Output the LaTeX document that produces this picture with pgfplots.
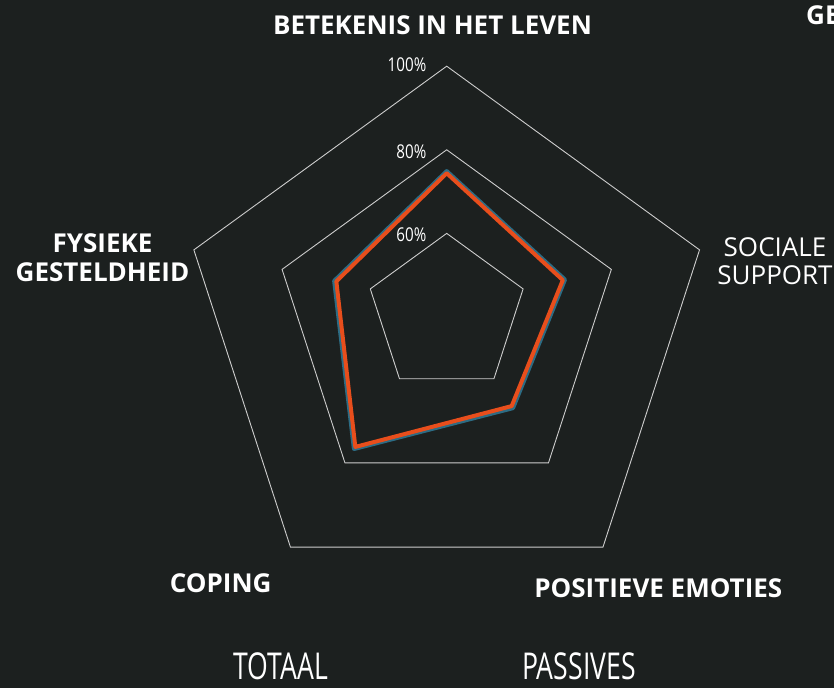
\documentclass[border=0pt]{standalone}
\usepackage{fontspec}
\setmainfont{Open Sans}
\newfontfamily\tickfont[FakeStretch=0.8]{Open Sans}
\newfontfamily\condfont[FakeStretch=0.72]{Open Sans}
\usepackage{pgfplots}
\usepackage{pgfplotstable}
\pgfplotsset{compat=1.18}
\definecolor{bg}{RGB}{28,32,31}
\definecolor{gridc}{RGB}{205,205,205}
\definecolor{orangec}{RGB}{232,78,28}
\definecolor{tealc}{RGB}{44,108,132}

% axis angles (clockwise from top)
\pgfplotstableread{
angle level
0 1
72 1
144 1
216 1
288 1
}\angles

% values in percent
\pgfplotstableread{
dim angle totaal passives
Betekenis 0 74.85 74.4
Sociale 72 69.45 69.0
Positieve 144 66.95 66.5
Coping 216 76.65 76.2
Fysieke 288 68.15 67.7
}\radar

\begin{document}
\begin{tikzpicture}
\begin{axis}[
  width=834bp, height=688bp, scale only axis,
  xmin=0, xmax=834, ymin=-688, ymax=0,
  axis lines=none, ticks=none, clip=false,
  axis background/.style={fill=bg},
]
% grid pentagons at 60, 80, 100 %
\pgfplotsinvokeforeach{60,80,100}{
  \addplot[gridc, line width=0.9bp, line join=miter, mark=none] table[
    x expr={446.7+4.6375*(#1-42.675)*sin(\thisrow{angle})},
    y expr={4.6375*(#1-42.675)*(cos(\thisrow{angle})-0.0987)-305.8}
  ]{\angles} -- cycle;
}
% series
\addplot[tealc, line width=4.4bp, line join=round, mark=none] table[
    x expr={446.7+4.6375*(\thisrow{totaal}-42.675)*sin(\thisrow{angle})},
    y expr={4.6375*(\thisrow{totaal}-42.675)*(cos(\thisrow{angle})-0.0987)-305.8}
  ]{\radar} -- cycle;
\addplot[orangec, line width=4bp, line join=round, mark=none] table[
    x expr={446.7+4.6375*(\thisrow{passives}-42.675)*sin(\thisrow{angle})},
    y expr={4.6375*(\thisrow{passives}-42.675)*(cos(\thisrow{angle})-0.0987)-305.8}
  ]{\radar} -- cycle;

% radial tick labels
\tikzset{tl/.style={anchor=base east, text=white, inner sep=0pt, font=\tickfont\fontsize{19bp}{21bp}\selectfont}}
\node[tl] at (axis cs:426.5,-71.7) {100\%};
\node[tl] at (axis cs:426.5,-158.3) {80\%};
\node[tl] at (axis cs:426.5,-241.7) {60\%};

% category labels
\tikzset{lab/.style={text=white, inner sep=0pt, font=\bfseries\fontsize{26bp}{29bp}\selectfont}}
\tikzset{labr/.style={text=white, inner sep=0pt, font=\fontsize{26bp}{29bp}\selectfont}}
\node[lab, anchor=base] at (axis cs:432.5,-34.3) {BETEKENIS IN HET LEVEN};
\node[lab, anchor=base] at (axis cs:102.5,-252.3) {FYSIEKE};
\node[lab, anchor=base] at (axis cs:102.5,-281.7) {GESTELDHEID};
\node[labr, anchor=base] at (axis cs:775,-256.7) {SOCIALE};
\node[labr, anchor=base] at (axis cs:775,-285) {SUPPORT};
\node[lab, anchor=base] at (axis cs:220.7,-592.3) {COPING};
\node[lab, anchor=base] at (axis cs:658.3,-597.3) {POSITIEVE EMOTIES};
\node[lab, anchor=base west] at (axis cs:806,-24.3) {GE};

% legend-like labels
\tikzset{lg/.style={text=white, inner sep=0pt, font=\condfont\fontsize{37bp}{40bp}\selectfont, anchor=base}}
\node[lg] at (axis cs:280.8,-679.3) {TOTAAL};
\node[lg] at (axis cs:579,-679.3) {PASSIVES};
\end{axis}
\pgfresetboundingbox
\path[use as bounding box] (current axis.south west) rectangle (current axis.north east);
\end{tikzpicture}
\end{document}
